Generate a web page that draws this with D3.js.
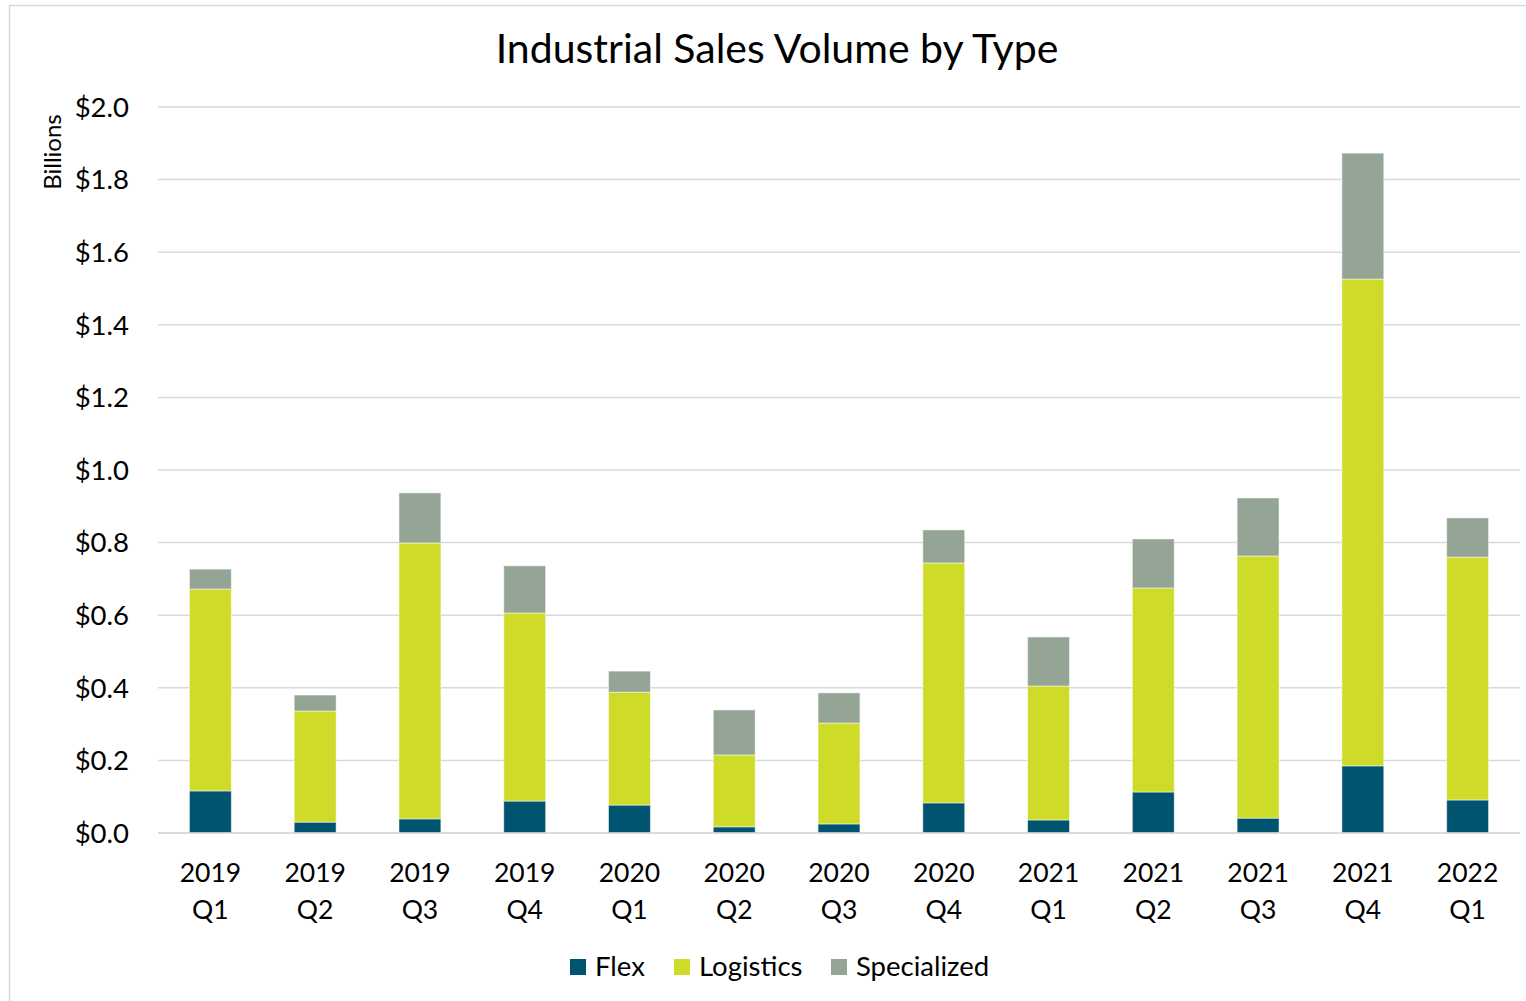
<!DOCTYPE html>
<html><head><meta charset="utf-8">
<script src="https://cdn.jsdelivr.net/npm/d3@7"></script>
<style>body{margin:0;background:#fff;} svg{display:block;font-family:Lato,"Open Sans",sans-serif;}</style>
</head><body>
<svg id="c" width="1526" height="1001"></svg>
<script>
const years = ["2019","2019","2019","2019","2020","2020","2020","2020","2021","2021","2021","2021","2022"];
const quarters = ["Q1","Q2","Q3","Q4","Q1","Q2","Q3","Q4","Q1","Q2","Q3","Q4","Q1"];
const flex = [0.116,0.030,0.039,0.088,0.077,0.017,0.025,0.083,0.036,0.113,0.041,0.185,0.091];
const logistics = [0.556,0.306,0.760,0.518,0.311,0.198,0.278,0.661,0.369,0.562,0.722,1.341,0.669];
const specialized = [0.055,0.044,0.138,0.130,0.058,0.124,0.083,0.091,0.135,0.135,0.160,0.347,0.108];
const seriesNames = ["Flex","Logistics","Specialized"];
const colors = ["#00546f","#cedb29","#95a595"];
const yTicks = [0,0.2,0.4,0.6,0.8,1.0,1.2,1.4,1.6,1.8,2.0];

const svg = d3.select("#c");
svg.append("rect").attr("x",9.5).attr("y",5.5).attr("width",1530).attr("height",1000)
  .attr("fill","none").attr("stroke","#d9d9d9").attr("stroke-width",1.5);

const pL=158, pR=1520, pT=107, pB=833;
const labels = years.map((yy,i)=>yy+" "+quarters[i]);
const x = d3.scaleBand().domain(labels).range([pL,pR]).paddingInner(0.6).paddingOuter(0.3);
const y = d3.scaleLinear().domain([0,2]).range([pB,pT]);

// grid
svg.append("g").selectAll("line").data(yTicks).join("line")
  .attr("x1",pL).attr("x2",pR).attr("y1",d=>y(d)).attr("y2",d=>y(d))
  .attr("stroke","#d9d9d9").attr("stroke-width",1.5);

// y axis labels
const yAxis = d3.axisLeft(y).tickValues(yTicks).tickSize(0).tickPadding(0).tickFormat(d=>"$"+d.toFixed(1));
const ga = svg.append("g").attr("transform",`translate(129,0)`).call(yAxis);
ga.select(".domain").remove();
ga.selectAll("text").attr("font-size",27.5).attr("fill","#000").attr("font-family","Lato,'Open Sans',sans-serif").attr("dy","0.34em");

// stacked bars
const rows = labels.map((l,i)=>({label:l,Flex:flex[i],Logistics:logistics[i],Specialized:specialized[i]}));
const stack = d3.stack().keys(seriesNames)(rows);
svg.append("g").selectAll("g").data(stack).join("g").attr("fill",(d,i)=>colors[i])
  .selectAll("rect").data(d=>d).join("rect")
  .attr("x",d=>x(d.data.label)).attr("width",x.bandwidth())
  .attr("y",d=>y(d[1])).attr("height",d=>y(d[0])-y(d[1]))
  .attr("stroke","rgba(255,255,255,0.5)").attr("stroke-width",1);

// x axis line
svg.append("line").attr("x1",pL).attr("x2",pR).attr("y1",pB).attr("y2",pB)
  .attr("stroke","#d9d9d9").attr("stroke-width",1.5);

// x labels
const xa = svg.append("g").selectAll("text").data(labels).join("text")
  .attr("text-anchor","middle").attr("font-size",26.5).attr("fill","#000");
xa.append("tspan").attr("x",d=>x(d)+x.bandwidth()/2).attr("y",882).text((d,i)=>years[i]);
xa.append("tspan").attr("x",d=>x(d)+x.bandwidth()/2).attr("y",919).text((d,i)=>quarters[i]);

// title
svg.append("text").attr("x",777).attr("y",63).attr("text-anchor","middle").attr("font-size",41).attr("fill","#000")
  .text("Industrial Sales Volume by Type");

// Billions
svg.append("text").attr("transform","translate(61,152) rotate(-90)").attr("text-anchor","middle")
  .attr("font-size",24).attr("fill","#000").text("Billions");

// legend
const legX=[570,674,831];
const lg = svg.append("g").selectAll("g").data(seriesNames).join("g")
  .attr("transform",(d,i)=>`translate(${legX[i]},959)`);
lg.append("rect").attr("width",16).attr("height",16).attr("fill",(d,i)=>colors[i]);
lg.append("text").attr("x",25).attr("y",17).attr("font-size",27.5).attr("fill","#000").text(d=>d);
</script>
</body></html>
